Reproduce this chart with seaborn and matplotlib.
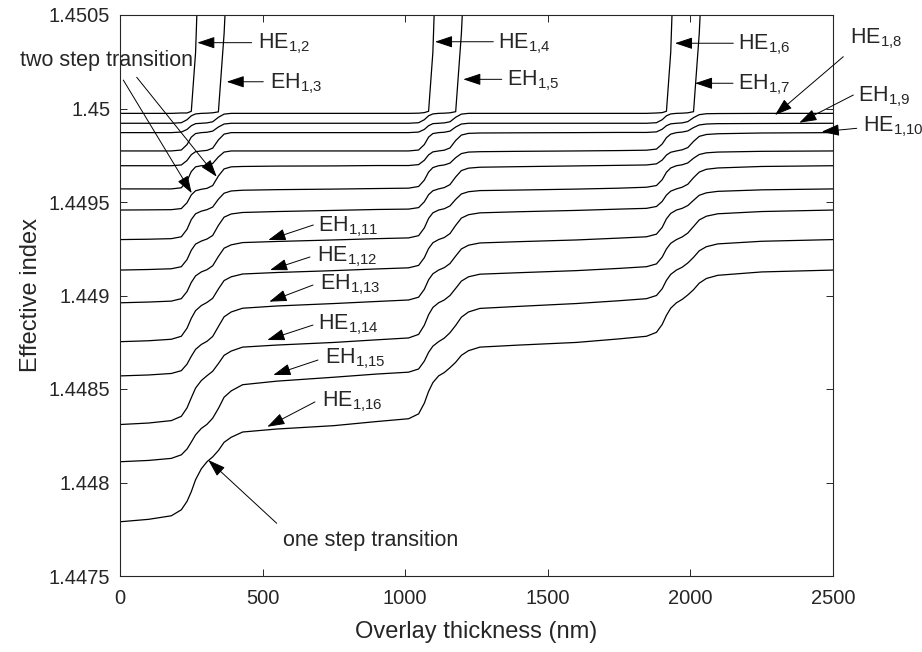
import numpy as np
import pandas as pd
import matplotlib
matplotlib.use("Agg")
import matplotlib.pyplot as plt
import seaborn as sns

# ---------------- data ----------------
thickness_nm = [0, 100, 180, 215, 235, 250, 265, 285, 305, 325, 345, 365, 390, 430, 550, 750, 900,
                1012, 1047, 1067, 1082, 1097, 1117, 1137, 1157, 1177, 1197, 1222, 1262, 1400, 1600, 1750,
                1846, 1881, 1901, 1916, 1931, 1951, 1971, 1991, 2011, 2031, 2056, 2096, 2250, 2500]

mode_names = ["HE_1,2", "EH_1,3", "HE_1,4", "EH_1,5", "HE_1,6", "EH_1,7", "HE_1,8", "EH_1,9",
              "HE_1,10", "EH_1,11", "HE_1,12", "EH_1,13", "HE_1,14", "EH_1,15", "HE_1,16"]

neff_HE_1_2 = [1.449974, 1.449974, 1.449974, 1.449976, 1.449976, 1.449985, 1.450300, 1.451200]

neff_EH_1_3 = [1.449921, 1.449921, 1.449921, 1.449924, 1.449940, 1.449961, 1.449971, 1.449974,
               1.449975, 1.449977, 1.449982, 1.450400, 1.451200]

neff_HE_1_4 = [1.449871, 1.449871, 1.449871, 1.449874, 1.449888, 1.449908, 1.449919, 1.449921,
               1.449923, 1.449929, 1.449953, 1.449970, 1.449974, 1.449974, 1.449974, 1.449974,
               1.449974, 1.449974, 1.449975, 1.449978, 1.449985, 1.450300, 1.451200]

neff_EH_1_5 = [1.449773, 1.449773, 1.449773, 1.449778, 1.449807, 1.449847, 1.449866, 1.449871,
               1.449873, 1.449879, 1.449901, 1.449917, 1.449921, 1.449921, 1.449921, 1.449921,
               1.449921, 1.449921, 1.449924, 1.449940, 1.449961, 1.449971, 1.449974, 1.449975,
               1.449977, 1.449983, 1.450400, 1.451200]

neff_HE_1_6 = [1.449694, 1.449694, 1.449694, 1.449698, 1.449722, 1.449753, 1.449769, 1.449773,
               1.449776, 1.449788, 1.449832, 1.449863, 1.449871, 1.449871, 1.449871, 1.449871,
               1.449871, 1.449871, 1.449874, 1.449888, 1.449908, 1.449919, 1.449921, 1.449923,
               1.449929, 1.449953, 1.449970, 1.449974, 1.449974, 1.449974, 1.449974, 1.449974,
               1.449974, 1.449976, 1.449978, 1.449985, 1.450300, 1.451200]

neff_EH_1_7 = [1.449570, 1.449570, 1.449570, 1.449576, 1.449613, 1.449663, 1.449688, 1.449694,
               1.449696, 1.449706, 1.449741, 1.449767, 1.449773, 1.449773, 1.449773, 1.449773,
               1.449773, 1.449773, 1.449778, 1.449807, 1.449847, 1.449866, 1.449871, 1.449873,
               1.449879, 1.449901, 1.449917, 1.449921, 1.449921, 1.449921, 1.449921, 1.449921,
               1.449921, 1.449924, 1.449940, 1.449961, 1.449971, 1.449974, 1.449975, 1.449977,
               1.449983, 1.450400, 1.451200]

neff_HE_1_8 = [1.449457, 1.449458, 1.449459, 1.449465, 1.449496, 1.449538, 1.449560, 1.449568,
               1.449573, 1.449588, 1.449639, 1.449677, 1.449688, 1.449690, 1.449692, 1.449693,
               1.449695, 1.449695, 1.449700, 1.449723, 1.449752, 1.449768, 1.449773, 1.449777,
               1.449789, 1.449829, 1.449858, 1.449867, 1.449869, 1.449870, 1.449871, 1.449872,
               1.449872, 1.449875, 1.449889, 1.449908, 1.449918, 1.449921, 1.449923, 1.449930,
               1.449951, 1.449967, 1.449972, 1.449973, 1.449974, 1.449974]

neff_EH_1_9 = [1.449299, 1.449301, 1.449304, 1.449314, 1.449354, 1.449406, 1.449437, 1.449451,
               1.449459, 1.449473, 1.449515, 1.449547, 1.449559, 1.449563, 1.449566, 1.449569,
               1.449572, 1.449574, 1.449583, 1.449617, 1.449660, 1.449684, 1.449694, 1.449698,
               1.449708, 1.449737, 1.449759, 1.449767, 1.449769, 1.449771, 1.449773, 1.449775,
               1.449777, 1.449783, 1.449810, 1.449844, 1.449863, 1.449871, 1.449874, 1.449880,
               1.449898, 1.449912, 1.449917, 1.449919, 1.449920, 1.449921]

neff_HE_1_10 = [1.449136, 1.449139, 1.449143, 1.449154, 1.449192, 1.449242, 1.449275, 1.449291,
                1.449302, 1.449321, 1.449375, 1.449419, 1.449436, 1.449444, 1.449449, 1.449455,
                1.449460, 1.449462, 1.449470, 1.449501, 1.449539, 1.449560, 1.449570, 1.449577,
                1.449593, 1.449634, 1.449668, 1.449681, 1.449686, 1.449689, 1.449693, 1.449696,
                1.449698, 1.449704, 1.449724, 1.449751, 1.449766, 1.449773, 1.449779, 1.449791,
                1.449824, 1.449851, 1.449861, 1.449865, 1.449869, 1.449871]

neff_EH_1_11 = [1.448961, 1.448965, 1.448970, 1.448983, 1.449021, 1.449070, 1.449105, 1.449126,
                1.449138, 1.449159, 1.449209, 1.449253, 1.449271, 1.449283, 1.449289, 1.449297,
                1.449304, 1.449308, 1.449320, 1.449361, 1.449412, 1.449442, 1.449457, 1.449464,
                1.449479, 1.449514, 1.449543, 1.449555, 1.449561, 1.449564, 1.449569, 1.449574,
                1.449579, 1.449588, 1.449619, 1.449659, 1.449682, 1.449694, 1.449699, 1.449709,
                1.449734, 1.449754, 1.449763, 1.449767, 1.449771, 1.449773]

neff_HE_1_12 = [1.448753, 1.448758, 1.448766, 1.448782, 1.448825, 1.448878, 1.448919, 1.448946,
                1.448963, 1.448985, 1.449035, 1.449080, 1.449100, 1.449115, 1.449123, 1.449133,
                1.449142, 1.449148, 1.449161, 1.449202, 1.449251, 1.449282, 1.449299, 1.449310,
                1.449331, 1.449375, 1.449414, 1.449432, 1.449442, 1.449448, 1.449455, 1.449462,
                1.449466, 1.449476, 1.449503, 1.449537, 1.449558, 1.449570, 1.449579, 1.449595,
                1.449630, 1.449660, 1.449675, 1.449682, 1.449690, 1.449694]

neff_EH_1_13 = [1.448570, 1.448575, 1.448583, 1.448598, 1.448633, 1.448675, 1.448712, 1.448738,
                1.448755, 1.448781, 1.448834, 1.448886, 1.448912, 1.448932, 1.448944, 1.448957,
                1.448968, 1.448976, 1.448991, 1.449033, 1.449084, 1.449116, 1.449136, 1.449149,
                1.449171, 1.449211, 1.449249, 1.449269, 1.449281, 1.449288, 1.449297, 1.449307,
                1.449314, 1.449328, 1.449364, 1.449410, 1.449439, 1.449457, 1.449466, 1.449481,
                1.449509, 1.449536, 1.449549, 1.449557, 1.449565, 1.449570]

neff_HE_1_14 = [1.448310, 1.448318, 1.448331, 1.448354, 1.448399, 1.448453, 1.448505, 1.448545,
                1.448571, 1.448595, 1.448636, 1.448680, 1.448703, 1.448724, 1.448735, 1.448749,
                1.448763, 1.448773, 1.448792, 1.448841, 1.448897, 1.448936, 1.448961, 1.448976,
                1.449000, 1.449038, 1.449077, 1.449100, 1.449114, 1.449122, 1.449133, 1.449145,
                1.449154, 1.449169, 1.449205, 1.449249, 1.449279, 1.449299, 1.449313, 1.449334,
                1.449369, 1.449404, 1.449424, 1.449437, 1.449449, 1.449457]

neff_EH_1_15 = [1.448111, 1.448118, 1.448129, 1.448148, 1.448179, 1.448216, 1.448255, 1.448289,
                1.448311, 1.448344, 1.448396, 1.448456, 1.448490, 1.448523, 1.448542, 1.448563,
                1.448580, 1.448590, 1.448607, 1.448649, 1.448696, 1.448729, 1.448753, 1.448772,
                1.448801, 1.448840, 1.448884, 1.448912, 1.448931, 1.448942, 1.448957, 1.448972,
                1.448983, 1.449000, 1.449036, 1.449081, 1.449113, 1.449136, 1.449151, 1.449174,
                1.449204, 1.449239, 1.449261, 1.449276, 1.449290, 1.449299]

neff_HE_1_16 = [1.447790, 1.447803, 1.447822, 1.447854, 1.447899, 1.447951, 1.448015, 1.448073,
                1.448111, 1.448137, 1.448171, 1.448215, 1.448242, 1.448270, 1.448286, 1.448304,
                1.448326, 1.448341, 1.448367, 1.448424, 1.448487, 1.448534, 1.448570, 1.448588,
                1.448614, 1.448643, 1.448680, 1.448705, 1.448724, 1.448735, 1.448749, 1.448768,
                1.448782, 1.448803, 1.448845, 1.448894, 1.448932, 1.448961, 1.448979, 1.449003,
                1.449031, 1.449066, 1.449091, 1.449108, 1.449126, 1.449136]

x_ticks = [0, 500, 1000, 1500, 2000, 2500]
x_tick_labels = ["0", "500", "1000", "1500", "2000", "2500"]
y_ticks = [1.4475, 1.448, 1.4485, 1.449, 1.4495, 1.45, 1.4505]
y_tick_labels = ["1.4475", "1.448", "1.4485", "1.449", "1.4495", "1.45", "1.4505"]

curves = [neff_HE_1_2, neff_EH_1_3, neff_HE_1_4, neff_EH_1_5, neff_HE_1_6, neff_EH_1_7,
          neff_HE_1_8, neff_EH_1_9, neff_HE_1_10, neff_EH_1_11, neff_HE_1_12, neff_EH_1_13,
          neff_HE_1_14, neff_EH_1_15, neff_HE_1_16]

rows = []
for name, vals in zip(mode_names, curves):
    for x, y in zip(thickness_nm, vals):
        rows.append((x, y, name))
df = pd.DataFrame(rows, columns=["thickness", "neff", "mode"])

# ---------------- annotations (label text, text anchor, arrow tail, arrow head) ----------------
label_specs = [
    ("HE", "1{,}2", 483.9, 1.450320),
    ("EH", "1{,}3", 526.0, 1.450110),
    ("HE", "1{,}4", 1325.4, 1.450324),
    ("EH", "1{,}5", 1355.9, 1.450123),
    ("HE", "1{,}6", 2166.9, 1.450316),
    ("EH", "1{,}7", 2166.9, 1.450102),
    ("HE", "1{,}8", 2559.6, 1.450350),
    ("EH", "1{,}9", 2588.7, 1.450040),
    ("HE", "1{,}10", 2606.2, 1.449880),
    ("EH", "1{,}11", 695.3, 1.449345),
    ("HE", "1{,}12", 689.7, 1.449185),
    ("EH", "1{,}13", 701.3, 1.449032),
    ("HE", "1{,}14", 695.3, 1.448818),
    ("EH", "1{,}15", 718.8, 1.448639),
    ("HE", "1{,}16", 707.3, 1.448409),
]
arrow_specs = [
    (461.8, 1.450352, 271.0, 1.450352),
    (502.4, 1.450143, 374.1, 1.450143),
    (1308.9, 1.450357, 1104.5, 1.450357),
    (1338.4, 1.450156, 1203.7, 1.450156),
    (2150.4, 1.450349, 1946.0, 1.450349),
    (2149.4, 1.450135, 2016.2, 1.450135),
    (2536.1, 1.450277, 2296.6, 1.449965),
    (2571.2, 1.450072, 2381.9, 1.449924),
    (2583.1, 1.449894, 2460.4, 1.449876),
    (677.8, 1.449377, 520.0, 1.449297),
    (666.2, 1.449206, 526.0, 1.449136),
    (676.7, 1.449056, 523.5, 1.448967),
    (676.7, 1.448842, 516.5, 1.448762),
    (694.2, 1.448655, 537.5, 1.448575),
    (683.7, 1.448431, 516.5, 1.448298),
    (549.4, 1.447782, 309.6, 1.448120),
    (11.6, 1.450152, 251.4, 1.449547),
    (58.6, 1.450167, 339.1, 1.449635),
]

# ---------------- drawing ----------------
sns.set_theme(style="white")
plt.rcParams["font.family"] = ["Liberation Sans", "DejaVu Sans"]
plt.rcParams["mathtext.fontset"] = "custom"
plt.rcParams["mathtext.rm"] = "Liberation Sans"
plt.rcParams["mathtext.it"] = "Liberation Sans:italic"
plt.rcParams["mathtext.bf"] = "Liberation Sans:bold"

axis_color = "#262626"

fig = plt.figure(figsize=(9.22, 6.52), dpi=100)
ax = fig.add_axes([120 / 922, 76 / 652, 713 / 922, 561 / 652])

sns.lineplot(data=df, x="thickness", y="neff", units="mode", estimator=None,
             color="black", linewidth=0.9, sort=False, legend=False, ax=ax)

ax.set_xlim(0, 2500)
ax.set_ylim(1.4475, 1.4505)
ax.set_xticks(x_ticks)
ax.set_xticklabels(x_tick_labels)
ax.set_yticks(y_ticks)
ax.set_yticklabels(y_tick_labels)
ax.tick_params(axis="both", direction="in", length=5, width=0.7, colors=axis_color,
               labelsize=14.5, bottom=True, left=True, top=True, right=True,
               labelcolor=axis_color)
ax.tick_params(axis="x", pad=9)
ax.tick_params(axis="y", pad=7)
for sp in ax.spines.values():
    sp.set_color(axis_color)
    sp.set_linewidth(0.8)
    sp.set_visible(True)
ax.set_xlabel("Overlay thickness (nm)", fontsize=17, color=axis_color, labelpad=10)
ax.set_ylabel("Effective index", fontsize=17, color=axis_color, labelpad=5)
ax.grid(False)

for base, sub, x, y in label_specs:
    ax.text(x, y, r"$\mathregular{%s_{%s}}$" % (base, sub), fontsize=15.5, color=axis_color,
            ha="left", va="baseline", clip_on=False)

for tx, ty, hx, hy in arrow_specs:
    ax.annotate("", xy=(hx, hy), xytext=(tx, ty), annotation_clip=False,
                arrowprops=dict(arrowstyle="-|>,head_length=0.9,head_width=0.3",
                                color="black", lw=0.7, shrinkA=0, shrinkB=0,
                                mutation_scale=12))

ax.text(257, 1.450227, "two step transition", fontsize=15.5, color=axis_color,
        ha="right", va="baseline", clip_on=False)
ax.text(572.6, 1.447660, "one step transition", fontsize=15.5, color=axis_color,
        ha="left", va="baseline", clip_on=False)

fig.savefig("out.png", dpi=100)
